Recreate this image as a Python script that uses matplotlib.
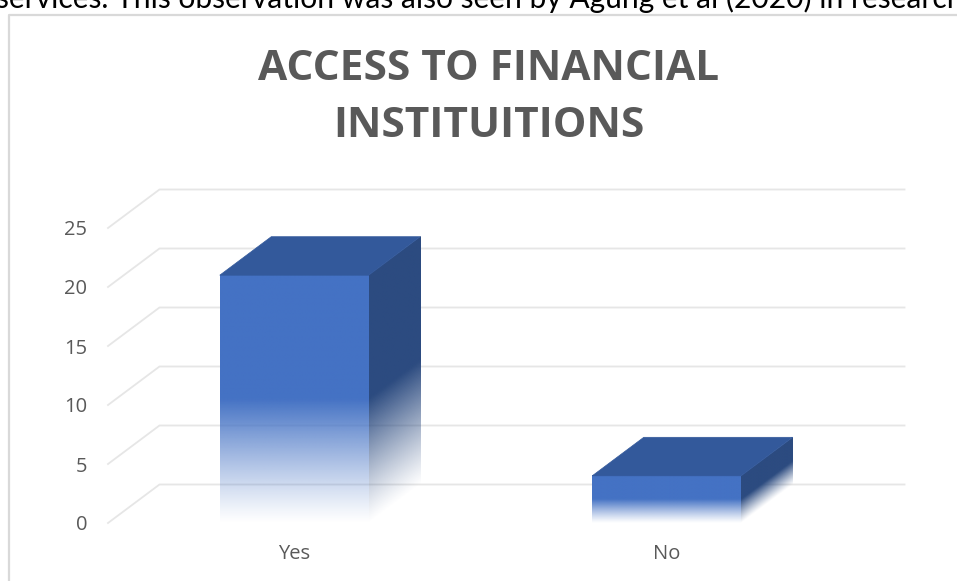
import numpy as np
import matplotlib
matplotlib.use("Agg")
import matplotlib.pyplot as plt
from matplotlib.patches import Polygon
from matplotlib.lines import Line2D
from matplotlib.transforms import Affine2D

# ---- data ----
categories = ["Yes", "No"]
values = [21, 4]
yticks = [0, 5, 10, 15, 20, 25]
title_lines = ["ACCESS TO FINANCIAL", "INSTITUITIONS"]
doc_text = "services. This observation was also seen by Agung et al (2020) in research"

# ---- style ----
W, H, DPI = 957, 581, 100
FRONT = np.array([68, 114, 196]) / 255.0
TOP = "#33599B"
SIDE = np.array([44, 75, 128]) / 255.0
GRID = "#E6E6E6"
TXT = "#595959"
DEPTH_PX = (51.5, 38.5)
BAR_W = 0.4

fig = plt.figure(figsize=(W / DPI, H / DPI), dpi=DPI)
fig.patch.set_facecolor("white")

# document text above the chart frame
fig.text(-0.004, 1 - 8 / H, doc_text, ha="left", va="baseline",
         fontsize=21.6, family="Lato", color="black")

# chart frame
fig.add_artist(Line2D([9 / W, 9 / W, 1.05], [-0.05, 1 - 14.5 / H, 1 - 14.5 / H],
                      transform=fig.transFigure, color="#D9D9D9", lw=1.6))

ax = fig.add_axes([108 / W, 58 / H, 745 / W, 295 / H])
ax.set_xlim(-0.5, len(categories) - 0.5)
ax.set_ylim(0, 25)
for s in ax.spines.values():
    s.set_visible(False)
ax.patch.set_alpha(0)

# depth offset in data units
p0 = ax.transData.transform((0, 0))
p1 = ax.transData.transform((1, 1))
ddx = DEPTH_PX[0] / (p1[0] - p0[0])
ddy = DEPTH_PX[1] / (p1[1] - p0[1])

x_lo, x_hi = ax.get_xlim()
for v in yticks:
    ax.add_line(Line2D([x_lo, x_lo + ddx, x_hi + ddx], [v, v + ddy, v + ddy],
                       color=GRID, lw=1.3, clip_on=False, zorder=1))

# vertical fade profile (bottom -> top)
t = (np.arange(300) + 0.5) / 300
alpha = np.clip(t / 0.5, 0.0, 1.0) ** 1.15


def grad_img(rgb):
    img = np.zeros((len(t), 2, 4))
    img[:, :, :3] = rgb
    img[:, :, 3] = alpha[:, None]
    return img


front_img = grad_img(FRONT)
side_img = grad_img(SIDE)

for i, (cat, val) in enumerate(zip(categories, values)):
    x0, x1 = i - BAR_W / 2, i + BAR_W / 2
    # front face: unit square -> rectangle
    A_front = Affine2D(np.array([[BAR_W, 0, x0], [0, val, 0], [0, 0, 1]]))
    ax.imshow(front_img, origin="lower", extent=(0, 1, 0, 1), aspect="auto",
              interpolation="bilinear", transform=A_front + ax.transData,
              zorder=4, clip_on=False)
    # side face: unit square -> parallelogram
    A_side = Affine2D(np.array([[ddx, 0, x1], [ddy, val, 0], [0, 0, 1]]))
    ax.imshow(side_img, origin="lower", extent=(0, 1, 0, 1), aspect="auto",
              interpolation="bilinear", transform=A_side + ax.transData,
              zorder=3, clip_on=False)
    ax.add_patch(Polygon([(x0, val), (x1, val), (x1 + ddx, val + ddy), (x0 + ddx, val + ddy)],
                         closed=True, facecolor=TOP, edgecolor=TOP, lw=0.5,
                         zorder=5, clip_on=False))

ax.set_xlim(-0.5, len(categories) - 0.5)
ax.set_ylim(0, 25)
ax.set_yticks(yticks)
ax.set_yticklabels([str(v) for v in yticks])
ax.set_xticks(range(len(categories)))
ax.set_xticklabels(categories)
ax.tick_params(axis="both", length=0, labelsize=14.5, labelcolor=TXT)
ax.tick_params(axis="y", pad=15)
ax.tick_params(axis="x", pad=15)
for lab in ax.get_xticklabels() + ax.get_yticklabels():
    lab.set_family("Open Sans")

# title
fig.text(489 / W, 1 - 80 / H, title_lines[0], ha="center", va="baseline",
         fontsize=30.5, fontweight="bold", family="Open Sans", color=TXT)
fig.text(489 / W, 1 - 137 / H, title_lines[1], ha="center", va="baseline",
         fontsize=30.5, fontweight="bold", family="Open Sans", color=TXT)

fig.savefig("out.png", dpi=DPI, facecolor="white")
